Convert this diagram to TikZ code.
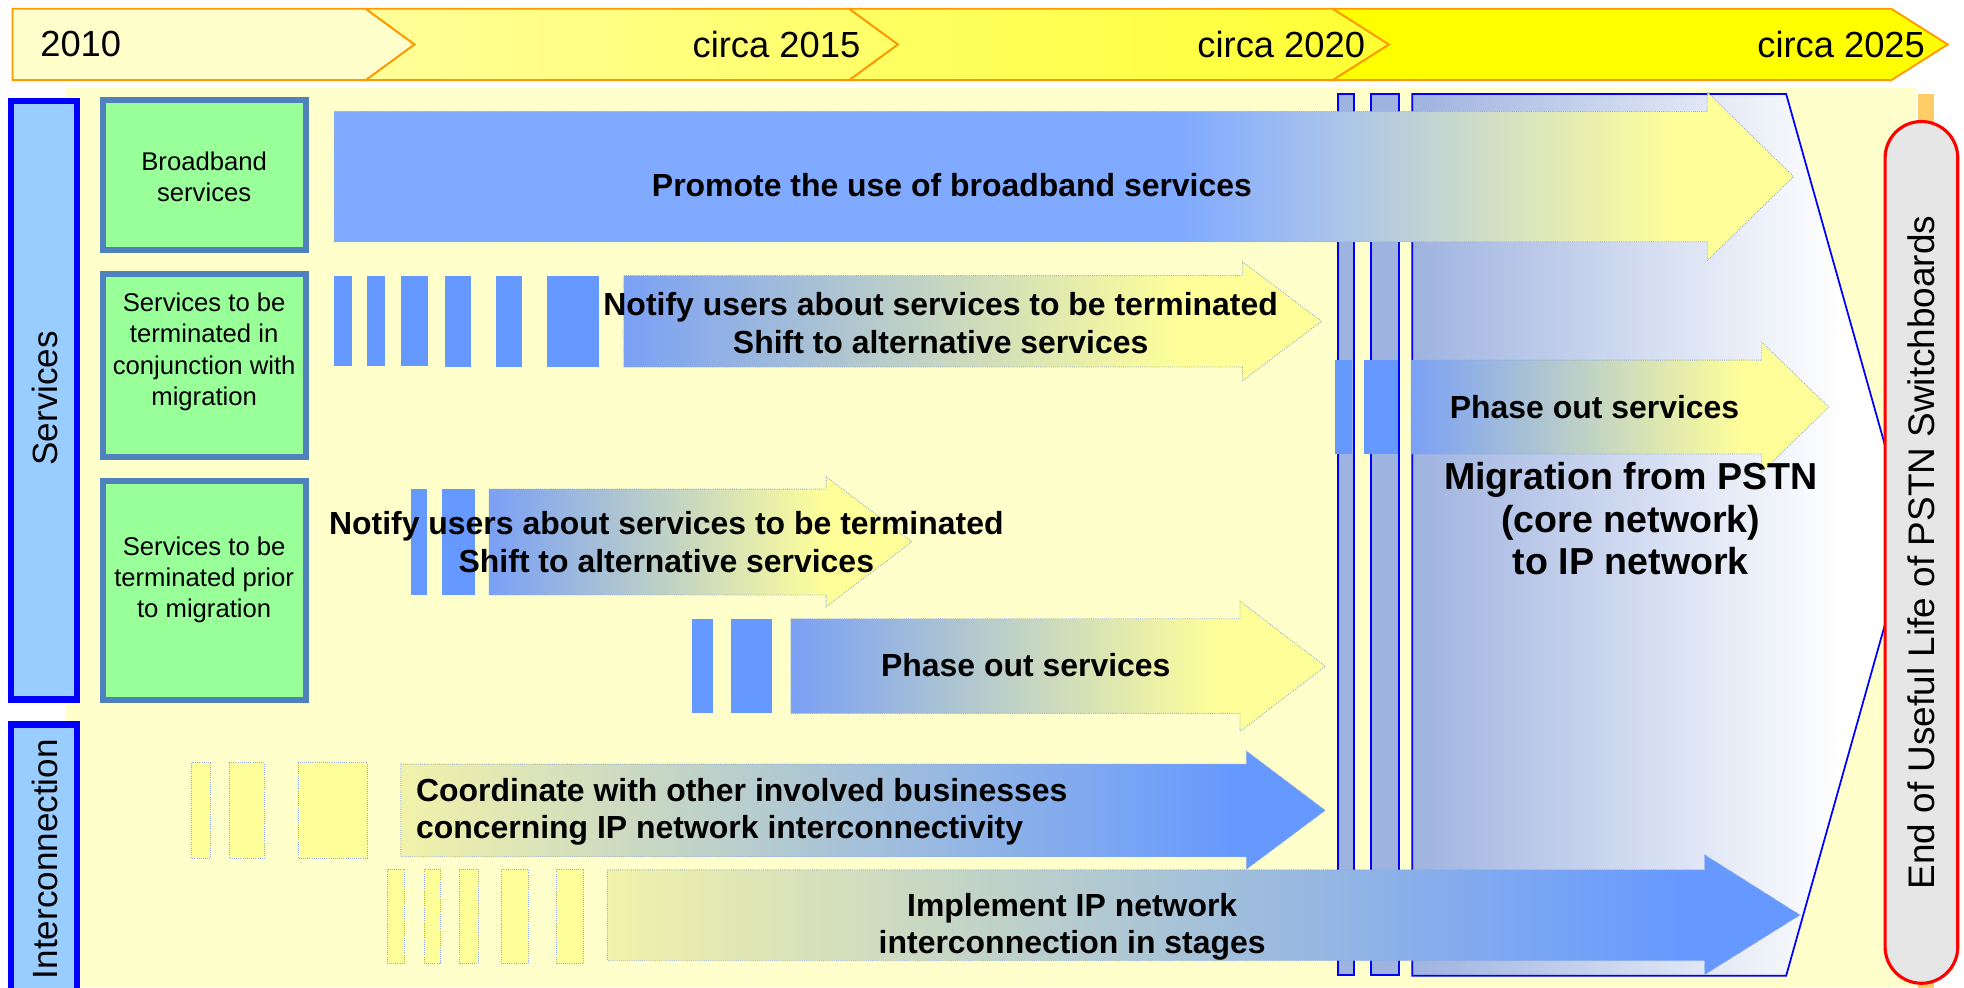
\documentclass[tikz,border=0pt]{standalone}
\usepackage{fontspec}
\setmainfont{Liberation Sans}

\definecolor{hdrline}{HTML}{FF9900}
\definecolor{hdrone}{HTML}{FFFFCC}
\definecolor{hdrtwo}{HTML}{FFFF99}
\definecolor{hdrthree}{HTML}{FFFF66}
\definecolor{hdrfour}{HTML}{FFFF33}
\definecolor{hdrfive}{HTML}{FFFF00}
\definecolor{panelyel}{HTML}{FFFFCC}
\definecolor{lblfill}{HTML}{99CCFF}
\definecolor{lblline}{HTML}{0000FF}
\definecolor{catfill}{HTML}{99FF99}
\definecolor{catline}{HTML}{4F81BD}
\definecolor{stripeblue}{HTML}{6699FF}
\definecolor{promblue}{HTML}{80AAFF}
\definecolor{promlav}{HTML}{A8C2EC}
\definecolor{arryel}{HTML}{FFFF99}
\definecolor{arrblue}{HTML}{7AA0F5}
\definecolor{paleyel}{HTML}{FFFF99}
\definecolor{coordyel}{HTML}{F2F2AA}
\definecolor{dotline}{HTML}{8EA9DB}
\definecolor{migblue}{HTML}{9FB3E0}
\definecolor{capfill}{HTML}{E6E6E6}
\definecolor{capline}{HTML}{FF0000}
\definecolor{capbar}{HTML}{FFCC66}

\pgfdeclarehorizontalshading{promoteshade}{100bp}{color(0bp)=(promblue); color(25bp)=(promblue); color(54bp)=(promblue); color(59bp)=(promlav); color(71bp)=(arryel); color(100bp)=(arryel)}
\pgfdeclarehorizontalshading{notifyshade}{100bp}{color(0bp)=(arrblue); color(25bp)=(arrblue); color(65bp)=(arryel); color(100bp)=(arryel)}
\pgfdeclarehorizontalshading{coordshade}{100bp}{color(0bp)=(coordyel); color(25bp)=(coordyel); color(70bp)=(stripeblue); color(100bp)=(stripeblue)}
\pgfdeclarehorizontalshading{migshade}{100bp}{color(0bp)=(migblue); color(25bp)=(migblue); color(68bp)=(white); color(100bp)=(white)}

\begin{document}
\begin{tikzpicture}[x=1pt,y=-1pt,
    yearlbl/.style={font=\fontsize{29}{34}\selectfont, inner sep=0pt},
    hdrseg/.style={draw=hdrline, line width=1.5pt, line join=miter},
    sidebox/.style={draw=lblline, fill=lblfill, line width=5pt},
    sidetext/.style={font=\fontsize{28}{32}\selectfont, rotate=90, inner sep=0pt},
    catbox/.style={draw=catline, fill=catfill, line width=4.8pt},
    cattext/.style={font=\fontsize{20.5}{25}\selectfont, align=center, inner sep=0pt},
    arrtext/.style={font=\bfseries\fontsize{25.5}{30}\selectfont, align=center, inner sep=0pt},
    migtext/.style={font=\bfseries\fontsize{30}{34}\selectfont, align=center, inner sep=0pt},
    captext/.style={font=\fontsize{29.5}{34}\selectfont, rotate=90, inner sep=0pt},
    stripe/.style={fill=stripeblue},
    palebar/.style={fill=paleyel, draw=dotline, densely dotted, line width=0.7pt},
    arrline/.style={draw=dotline, densely dotted, line width=0.7pt},
    migbar/.style={fill=migblue, draw=lblline, line width=1.4pt}]

    % Page frame
    \useasboundingbox (0,0) rectangle (1568,788);
    \clip (0,0) rectangle (1568,788);
    \fill[white] (0,0) rectangle (1568,788);

    % Yellow panel behind the rows
    \fill[panelyel] (53,70) rectangle (1530,788);

    % Time line along the top
    \path[hdrseg, fill=hdrone] (10,7) -- (292,7) -- (331,35.5) -- (292,64) -- (10,64) -- cycle;
    \path[hdrseg, left color=hdrtwo, right color=hdrthree] (292,7) -- (678,7) -- (717,35.5) -- (678,64) -- (292,64) -- (331,35.5) -- cycle;
    \path[hdrseg, left color=hdrthree, right color=hdrfour] (678,7) -- (1064,7) -- (1109,35.5) -- (1064,64) -- (678,64) -- (717,35.5) -- cycle;
    \path[hdrseg, fill=hdrfive] (1064,7) -- (1510,7) -- (1555,35.5) -- (1510,64) -- (1064,64) -- (1109,35.5) -- cycle;
    \node[yearlbl, anchor=west] (yr2010) at (32,35.5) {2010};
    \node[yearlbl, anchor=east] (yr2015) at (687,35.5) {circa 2015};
    \node[yearlbl, anchor=east] (yr2020) at (1090,35.5) {circa 2020};
    \node[yearlbl, anchor=east] (yr2025) at (1537,35.5) {circa 2025};

    % Side labels
    \draw[sidebox] (8.5,80.5) rectangle (61.5,558.5);
    \draw[sidebox] (8.5,578.5) rectangle (61.5,800);
    \node[sidetext] (services) at (36,318) {Services};
    \node[sidetext] (interconn) at (36,686) {Interconnection};

    % Kinds of services
    \draw[catbox] (82.4,79.9) rectangle (244.6,199.6);
    \draw[catbox] (82.4,218.4) rectangle (244.6,364.6);
    \draw[catbox] (82.4,384.4) rectangle (244.6,558.6);
    \node[cattext] (bbtext) at (163,141) {Broadband\\services};
    \node[cattext] (conjtext) at (163,281) {Services to be\\terminated in\\conjunction with\\migration};
    \node[cattext] (priortext) at (163,463) {Services to be\\terminated prior\\to migration};

    % Row 2: notify users (in conjunction with migration)
    \fill[stripe] (267,220) rectangle (281,292);
    \fill[stripe] (293,220) rectangle (307,292);
    \fill[stripe] (320,220) rectangle (342,292);
    \fill[stripe] (355,220) rectangle (376,293);
    \fill[stripe] (396,220) rectangle (417,293);
    \fill[stripe] (437,220) rectangle (478,293);
    \path[arrline, shade, shading=notifyshade] (498,220) -- (992,220) -- (992,209) -- (1055,256.5) -- (992,304) -- (992,293) -- (498,293) -- cycle;

    % Row 3: notify users (prior to migration)
    \fill[stripe] (328,390.5) rectangle (341,475);
    \fill[stripe] (353,390.5) rectangle (379,475);
    \path[arrline, shade, shading=notifyshade] (390.5,390.5) -- (659.5,390.5) -- (659.5,380.5) -- (728,432.5) -- (659.5,484.5) -- (659.5,475) -- (390.5,475) -- cycle;

    % Row 4: phase out (prior to migration)
    \fill[stripe] (552.5,494) rectangle (569,569.5);
    \fill[stripe] (583.5,494) rectangle (616.5,569.5);
    \path[arrline, shade, shading=notifyshade] (631.5,494) -- (990,494) -- (990,480) -- (1058,532) -- (990,584) -- (990,569.5) -- (631.5,569.5) -- cycle;

    % Interconnection row 1
    \path[palebar] (153,609) rectangle (168,685);
    \path[palebar] (183,609) rectangle (211,685);
    \path[palebar] (238,609) rectangle (293,685);
    \path[arrline, shade, shading=coordshade] (320,610) -- (995,610) -- (995,599.5) -- (1058,647) -- (995,694) -- (995,684) -- (320,684) -- cycle;

    % Migration block
    \path[migbar] (1068,75) rectangle (1081,778.5);
    \path[migbar] (1094.5,75) rectangle (1117,778.5);
    \path[draw=lblline, line width=1.4pt, shade, shading=migshade] (1127.5,75) -- (1426,75) -- (1525,427) -- (1426,779) -- (1127.5,779) -- cycle;

    % Row 1: broadband
    \path[arrline, shade, shading=promoteshade] (267,89) -- (1363,89) -- (1363,73.5) -- (1432,141) -- (1363,208) -- (1363,193) -- (267,193) -- cycle;

    % Phase out after migration
    \fill[stripe] (1066,287.5) rectangle (1079,362.5);
    \fill[stripe] (1089,287.5) rectangle (1116,362.5);
    \path[arrline, shade, shading=notifyshade] (1126.5,287.5) -- (1406.5,287.5) -- (1406.5,273) -- (1460,325) -- (1406.5,377) -- (1406.5,362.5) -- (1126.5,362.5) -- cycle;

    % Interconnection row 2
    \path[palebar] (309,694) rectangle (323,769);
    \path[palebar] (338.5,694) rectangle (352,769);
    \path[palebar] (367,694) rectangle (382,769);
    \path[palebar] (400,694) rectangle (421.5,769);
    \path[palebar] (444.5,694) rectangle (466,769);
    \path[arrline, shade, shading=coordshade] (485,694.5) -- (1361,694.5) -- (1361,682.5) -- (1437,730.5) -- (1361,778) -- (1361,767) -- (485,767) -- cycle;

    % Arrow texts
    \node[arrtext] (promote) at (760,148) {Promote the use of broadband services};
    \node[arrtext] (notifyA) at (751,258) {Notify users about services to be terminated\\Shift to alternative services};
    \node[arrtext] (notifyB) at (532,433) {Notify users about services to be terminated\\Shift to alternative services};
    \node[arrtext] (phaseA) at (819,531) {Phase out services};
    \node[arrtext, align=left, anchor=west] (coord) at (332,648) {Coordinate with other involved businesses\\concerning IP network interconnectivity};
    \node[arrtext] (implement) at (856,740) {Implement IP network\\interconnection in stages};
    \node[arrtext] (phaseB) at (1273,325) {Phase out services};
    \node[migtext] (migration) at (1302,414) {Migration from PSTN\\(core network)\\to IP network};

    % End of useful life
    \fill[capbar] (1531,75) rectangle (1544,792);
    \draw[capline, fill=capfill, line width=2.5pt, rounded corners=29pt] (1505,97) rectangle (1563,785);
    \node[captext] (eol) at (1534,441) {End of Useful Life of PSTN Switchboards};
\end{tikzpicture}
\end{document}
